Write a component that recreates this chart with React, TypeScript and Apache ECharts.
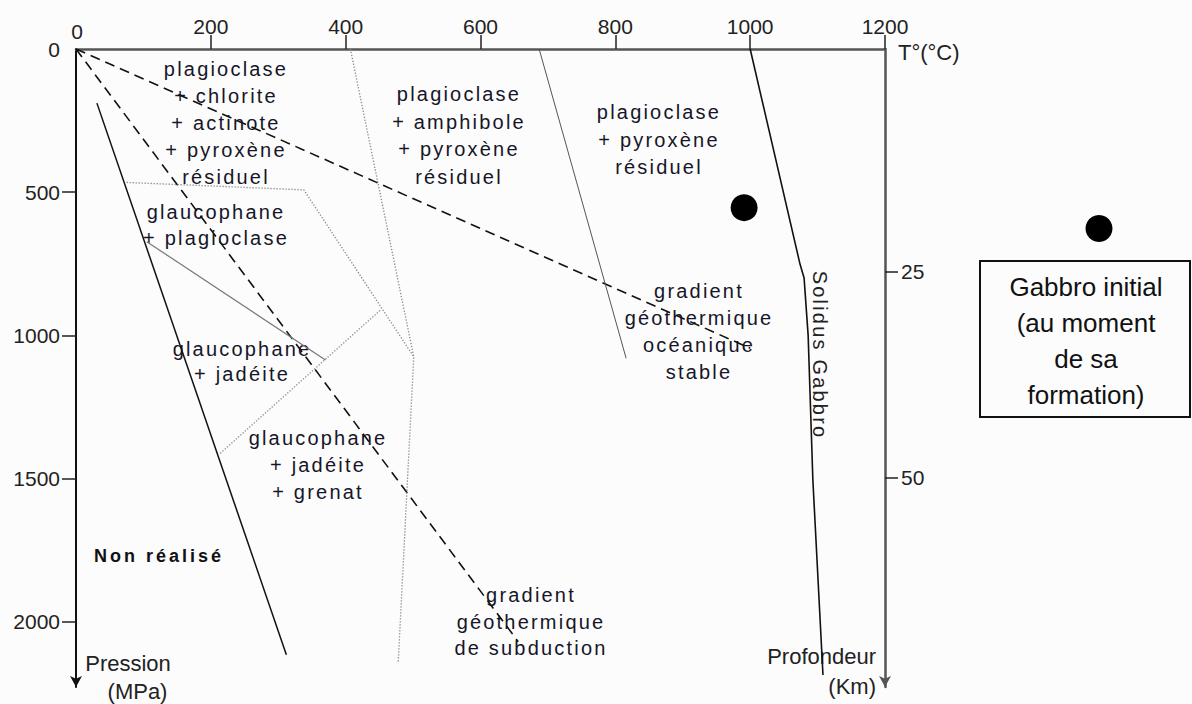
import React, { useEffect, useRef } from 'react';
import * as echarts from 'echarts';

// Axis ticks
const temperatureTicks = [200, 400, 600, 800, 1000, 1200];
const temperatureOrigin = '0';
const temperatureTickMarks = [200, 400, 600, 800, 1000, 1200];
const pressureTicks = [0, 500, 1000, 1500, 2000];
const pressureTickMarks = [500, 1000, 1500, 2000];
const depthTicks = [25, 50];

// Curves: [temperature °C, pressure MPa]
const oceanicGradient = [[0, 0], [1000, 1045]];
const subductionGradient = [[0, 0], [656, 2070]];
const nonRealiseLimit = [[31, 189], [312, 2115]];
const solidusGabbro = [[1000, 0], [1074, 752], [1080, 800], [1086, 1000], [1093, 1505], [1108, 2186]];
const amphibolePyroxeneLimit = [[687, 0], [816, 1080]];
const chloriteAmphiboleLimit = [[407, 0], [501, 1075], [478, 2140]];
const glaucophaneUpperLimit = [[75, 466], [338, 492], [501, 1075]];
const plagioclaseOutLimit = [[105, 673], [370, 1086]];
const grenatInLimit = [[214, 1412], [452, 911]];
const gabbroInitial = [[991, 554]];

const AXIS_FONT = 'Liberation Sans';
const LABEL_FONT = 'Liberation Sans, Arial';
const BOLD_FONT = 'Liberation Sans, Helvetica';
const LABEL_COLOR = '#161628';

function lineSeries(data: number[][], color: string, width: number, type: any) {
  return {
    type: 'line',
    data,
    symbol: 'none',
    silent: true,
    xAxisIndex: 0,
    yAxisIndex: 0,
    lineStyle: { color, width, type },
    z: 3,
  };
}

function label(text: string, x: number, y: number, lineHeight = 27) {
  return {
    type: 'text',
    x,
    y,
    silent: true,
    style: {
      text,
      fontSize: 20,
      fontFamily: LABEL_FONT,
      fill: LABEL_COLOR,
      align: 'center',
      verticalAlign: 'middle',
      lineHeight,
    },
  };
}

const plain = (v: number) => String(v);

export default function App() {
  const ref = useRef<HTMLDivElement>(null);

  useEffect(() => {
    if (!ref.current) return;
    const chart = echarts.init(ref.current, undefined, { renderer: 'svg' });
    const axisLabelBase = { fontSize: 21, color: '#222', fontFamily: AXIS_FONT, formatter: plain };
    chart.setOption({
      animation: false,
      backgroundColor: '#fcfcfc',
      grid: { left: 76, top: 49, width: 809, height: 638, containLabel: false },
      xAxis: {
        type: 'value',
        position: 'top',
        min: 0,
        max: 1200,
        axisLine: { onZero: false, lineStyle: { color: '#555', width: 2.5 } },
        axisTick: { customValues: temperatureTickMarks, length: 14, lineStyle: { color: '#222', width: 1.5 } },
        axisLabel: { ...axisLabelBase, customValues: temperatureTicks, margin: 12 },
        splitLine: { show: false },
      },
      yAxis: [
        {
          type: 'value',
          position: 'left',
          min: 0,
          max: 2228,
          inverse: true,
          axisLine: {
            onZero: false,
            lineStyle: { color: '#111', width: 2 },
            symbol: ['arrow', 'none'],
            symbolSize: [9, 11],
          },
          axisTick: { customValues: pressureTickMarks, length: 14, lineStyle: { color: '#222', width: 1.5 } },
          axisLabel: { ...axisLabelBase, customValues: pressureTicks, margin: 16 },
          splitLine: { show: false },
        },
        {
          type: 'value',
          position: 'right',
          min: -2.08,
          max: 75.5,
          inverse: true,
          axisLine: {
            onZero: false,
            lineStyle: { color: '#555', width: 2.5 },
            symbol: ['arrow', 'none'],
            symbolSize: [9, 11],
          },
          axisTick: { customValues: depthTicks, length: 13, lineStyle: { color: '#222', width: 1.5 } },
          axisLabel: { ...axisLabelBase, customValues: depthTicks, margin: 16 },
          splitLine: { show: false },
        },
      ],
      series: [
        lineSeries(oceanicGradient, '#111', 1.6, [10, 6]),
        lineSeries(subductionGradient, '#111', 1.6, [10, 6]),
        lineSeries(nonRealiseLimit, '#111', 1.5, 'solid'),
        lineSeries(solidusGabbro, '#111', 1.6, 'solid'),
        lineSeries(amphibolePyroxeneLimit, '#555', 1, 'solid'),
        lineSeries(plagioclaseOutLimit, '#777', 1.2, 'solid'),
        lineSeries(chloriteAmphiboleLimit, '#888', 1.3, [1.3, 1.7]),
        lineSeries(glaucophaneUpperLimit, '#888', 1.3, [1.3, 1.7]),
        lineSeries(grenatInLimit, '#888', 1.3, [1.3, 1.7]),
        {
          type: 'scatter',
          data: gabbroInitial,
          symbol: 'circle',
          symbolSize: 27,
          itemStyle: { color: '#000', opacity: 1 },
          silent: true,
          z: 4,
        },
      ],
      graphic: [
        {
          type: 'text',
          x: 77,
          y: 31,
          silent: true,
          style: { text: temperatureOrigin, fontSize: 21, fontFamily: AXIS_FONT, fill: '#222', align: 'center', verticalAlign: 'middle' },
        },
        label('plagioclase\n+ chlorite\n+ actinote\n+ pyroxène\nrésiduel', 226, 123),
        label('glaucophane\n+ plagioclase', 216, 225, 26),
        label('plagioclase\n+ amphibole\n+ pyroxène\nrésiduel', 459, 135.5, 27.5),
        label('plagioclase\n+ pyroxène\nrésiduel', 659, 139.5, 27.5),
        label('gradient\ngéothermique\nocéanique\nstable', 699, 331, 27),
        label('glaucophane\n+ jadéite', 242, 361, 25),
        label('glaucophane\n+ jadéite\n+ grenat', 318, 465, 27),
        label('gradient\ngéothermique\nde subduction', 531, 621.5, 26.7),
        {
          type: 'text',
          x: 159,
          y: 556,
          silent: true,
          style: {
            text: 'Non réalisé',
            fontSize: 18,
            fontWeight: 'bold',
            fontFamily: BOLD_FONT,
            fill: '#111',
            align: 'center',
            verticalAlign: 'middle',
          },
        },
        {
          type: 'text',
          x: 820,
          y: 355,
          rotation: -Math.PI / 2,
          silent: true,
          style: {
            text: 'Solidus Gabbro',
            fontSize: 20,
            fontFamily: LABEL_FONT,
            fill: '#222',
            align: 'center',
            verticalAlign: 'middle',
          },
        },
        {
          type: 'text',
          x: 898,
          y: 52,
          silent: true,
          style: { text: 'T°(°C)', fontSize: 22, fontFamily: AXIS_FONT, fill: '#222', align: 'left', verticalAlign: 'middle' },
        },
        {
          type: 'text',
          x: 128,
          y: 663,
          silent: true,
          style: { text: 'Pression', fontSize: 22, fontFamily: AXIS_FONT, fill: '#222', align: 'center', verticalAlign: 'middle' },
        },
        {
          type: 'text',
          x: 137.5,
          y: 691,
          silent: true,
          style: { text: '(MPa)', fontSize: 22, fontFamily: AXIS_FONT, fill: '#222', align: 'center', verticalAlign: 'middle' },
        },
        {
          type: 'text',
          x: 876,
          y: 656,
          silent: true,
          style: { text: 'Profondeur', fontSize: 22, fontFamily: AXIS_FONT, fill: '#222', align: 'right', verticalAlign: 'middle' },
        },
        {
          type: 'text',
          x: 876,
          y: 686,
          silent: true,
          style: { text: '(Km)', fontSize: 22, fontFamily: AXIS_FONT, fill: '#222', align: 'right', verticalAlign: 'middle' },
        },
        // Legend
        {
          type: 'circle',
          silent: true,
          shape: { cx: 1099, cy: 228.5, r: 13.5 },
          style: { fill: '#000' },
        },
        {
          type: 'rect',
          silent: true,
          shape: { x: 980, y: 261, width: 210, height: 156 },
          style: { fill: 'none', stroke: '#111', lineWidth: 2 },
        },
        {
          type: 'text',
          x: 1086,
          y: 341,
          silent: true,
          style: {
            text: 'Gabbro initial\n(au moment\nde sa\nformation)',
            fontSize: 26,
            fontFamily: AXIS_FONT,
            fill: '#111',
            align: 'center',
            verticalAlign: 'middle',
            lineHeight: 36,
          },
        },
      ],
    });
    return () => chart.dispose();
  }, []);

  return (
    <>
      <style>{`
        .ptchart text[style*="Arial"] { letter-spacing: 2.2px; }
        .ptchart text[style*="Helvetica"] { letter-spacing: 3px; }
      `}</style>
      <div
        ref={ref}
        className="ptchart"
        style={{ position: 'absolute', left: 0, top: 0, width: 1192, height: 704 }}
      />
    </>
  );
}
